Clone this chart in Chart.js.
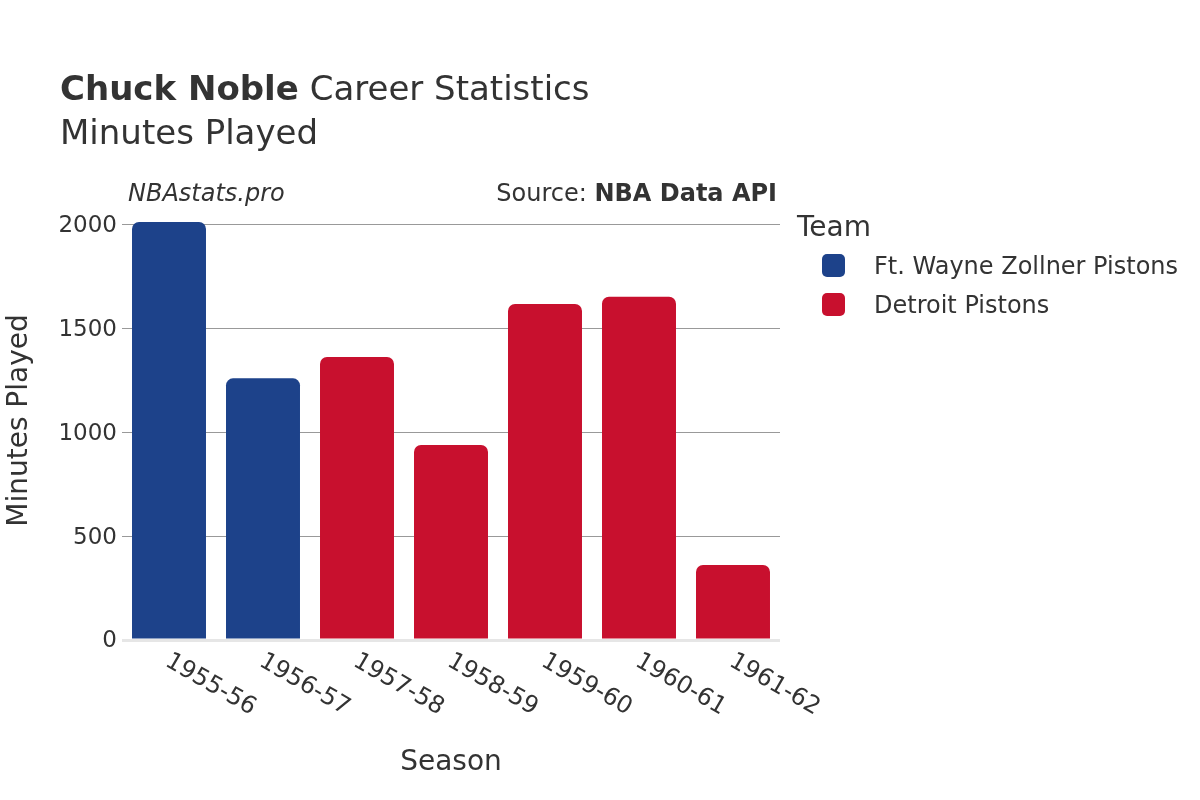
<!DOCTYPE html>
<html>
<head>
<meta charset="utf-8">
<script src="https://cdn.jsdelivr.net/npm/chart.js@4.4.1/dist/chart.umd.min.js"></script>
<style>
  html, body { margin: 0; padding: 0; background: #fff; }
  #wrap { position: relative; width: 1200px; height: 800px; overflow: hidden; font-family: "DejaVu Sans", sans-serif; color: #333; }
  #wrap canvas { position: absolute; left: 0; top: 0; }
  .t { position: absolute; white-space: nowrap; line-height: 1; }
  .mk { position: absolute; width: 23px; height: 23px; border-radius: 5px; }
</style>
</head>
<body>
<div id="wrap">
  <canvas id="c" width="1200" height="800"></canvas>
  <div class="t" style="left:60px; top:71px; font-size:34px;"><b>Chuck Noble</b> Career Statistics</div>
  <div class="t" style="left:60px; top:115px; font-size:34px;">Minutes Played</div>
  <div class="t" style="left:128px; top:181px; font-size:24px; font-style:italic;">NBAstats.pro</div>
  <div class="t" style="right:423px; top:181px; font-size:24px;">Source: <b>NBA Data API</b></div>
  <div class="t" style="left:797px; top:213px; font-size:28px;">Team</div>
  <div id="legend"></div>
</div>
<script>
const seasons = ["1955-56", "1956-57", "1957-58", "1958-59", "1959-60", "1960-61", "1961-62"];
const teams = ["Ft. Wayne Zollner Pistons", "Detroit Pistons"];
const teamColors = ["#1d428a", "#c8102e"];
const ftWayneMinutes = [2013, 1260, null, null, null, null, null];
const detroitMinutes = [null, null, 1363, 939, 1618, 1653, 361];
const yTickValues = [0, 500, 1000, 1500, 2000];

const seriesValues = [ftWayneMinutes, detroitMinutes];

// HTML legend built from the series
const legend = document.getElementById('legend');
teams.forEach((name, i) => {
  const mk = document.createElement('div');
  mk.className = 'mk';
  mk.style.left = '822px';
  mk.style.top = (254 + i * 39) + 'px';
  mk.style.background = teamColors[i];
  legend.appendChild(mk);
  const tx = document.createElement('div');
  tx.className = 't';
  tx.style.left = '874px';
  tx.style.top = (254 + i * 39) + 'px';
  tx.style.fontSize = '24px';
  tx.textContent = name;
  legend.appendChild(tx);
});

const rotatedLabels = {
  id: 'rotatedLabels',
  afterDraw(chart) {
    const xs = chart.scales.x;
    const ctx = chart.ctx;
    ctx.save();
    ctx.font = '24px "DejaVu Sans"';
    ctx.fillStyle = '#333';
    ctx.textAlign = 'left';
    ctx.textBaseline = 'alphabetic';
    seasons.forEach((s, i) => {
      const x = xs.getPixelForValue(i);
      ctx.save();
      ctx.translate(x - 5, 665);
      ctx.rotate(Math.PI / 6);
      ctx.fillText(s, 0, 0);
      ctx.restore();
    });
    ctx.restore();
  }
};

new Chart(document.getElementById('c'), {
  type: 'bar',
  data: {
    labels: seasons,
    datasets: teams.map((t, i) => ({
      label: t,
      data: seriesValues[i],
      backgroundColor: teamColors[i],
      borderWidth: 0,
      borderRadius: 7,
      borderSkipped: 'start',
      categoryPercentage: 1.0,
      barPercentage: 0.787
    }))
  },
  options: {
    responsive: false,
    animation: false,
    devicePixelRatio: 1,
    layout: { padding: { left: 3, right: 420, top: 201, bottom: 0 } },
    plugins: {
      legend: { display: false },
      title: { display: false },
      tooltip: { enabled: false }
    },
    scales: {
      x: {
        stacked: true,
        grid: { display: false, drawTicks: false },
        border: { display: false },
        ticks: { display: false },
        title: {
          display: true,
          text: 'Season',
          color: '#333',
          font: { family: 'DejaVu Sans', size: 28 },
          padding: { top: 0, bottom: 20 }
        },
        afterFit(scale) { scale.height = 160; }
      },
      y: {
        stacked: true,
        min: 0,
        max: 2114,
        afterBuildTicks(scale) {
          scale.ticks = yTickValues.map(v => ({ value: v }));
        },
        grid: {
          drawTicks: false,
          color: ctx => (ctx.tick && ctx.tick.value === 0) ? '#e6e6e6' : '#999',
          lineWidth: ctx => (ctx.tick && ctx.tick.value === 0) ? 3 : 1
        },
        border: { display: false },
        ticks: {
          padding: 5,
          labelOffset: 1.5,
          color: '#333',
          font: { family: 'DejaVu Sans', size: 23 },
          callback: v => String(v)
        },
        title: {
          display: true,
          text: 'Minutes Played',
          color: '#333',
          font: { family: 'DejaVu Sans', size: 28 },
          padding: { top: 0, bottom: 0 }
        },
        afterFit(scale) { scale.width = 119; }
      }
    }
  },
  plugins: [rotatedLabels]
});
</script>
</body>
</html>
